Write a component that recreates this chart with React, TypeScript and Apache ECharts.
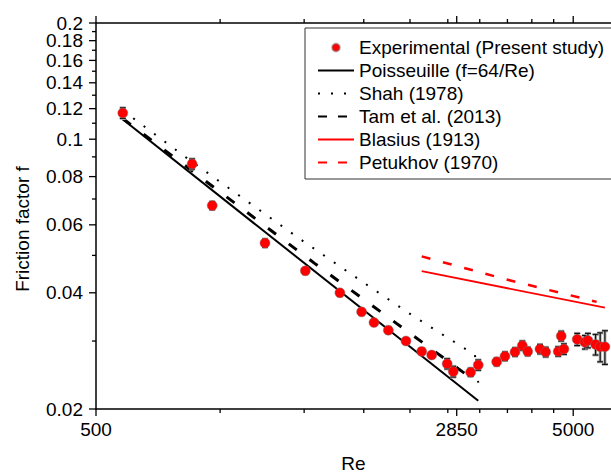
import React, { useEffect, useRef } from "react";
import * as echarts from "echarts";

// ---- axis ranges & ticks ----
const X_MIN = 500;
const X_MAX = 6000;
const Y_MIN = 0.02;
const Y_MAX = 0.2;
const xMajorTicks = [500, 2850, 5000];
const xMinorTicks = [910, 1365, 1820, 2275, 2730, 3185, 3640, 4095, 4550];
const yMajorTicks = [0.02, 0.04, 0.06, 0.08, 0.1, 0.12, 0.14, 0.16, 0.18, 0.2];
const yMinorTicks = [0.03, 0.05, 0.07, 0.09, 0.11, 0.13, 0.15, 0.17, 0.19];

// ---- experimental data ----
const expRe = [569, 795, 876, 1130, 1373, 1622, 1801, 1912, 2049, 2231, 2407, 2526, 2722, 2803, 3048, 3162,
  3456, 3597, 3775, 3911, 4014, 4259, 4378, 4651, 4781, 4719, 5097, 5290, 5367, 5570, 5695, 5826];
const expF = [0.1169, 0.0863, 0.0673, 0.0538, 0.0456, 0.0400, 0.0357, 0.0335, 0.0320, 0.0300, 0.0282, 0.0276,
  0.0262, 0.0250, 0.0249, 0.0260, 0.0265, 0.0274, 0.0281, 0.0292, 0.0282, 0.0286, 0.0281, 0.0282, 0.0286,
  0.0309, 0.0303, 0.0298, 0.0301, 0.0294, 0.0290, 0.0290];
const expErr = [0.0037, 0.0026, 0.0016, 0.0013, 0.0008, 0.0007, 0.0006, 0.0006, 0.0006, 0.0005, 0.0005, 0.0005,
  0.0008, 0.0008, 0.0006, 0.0008, 0.0006, 0.0007, 0.0007, 0.0008, 0.0007, 0.0008, 0.0008, 0.0008, 0.0009,
  0.0009, 0.0011, 0.0012, 0.0013, 0.0018, 0.0025, 0.0029];

// ---- correlations ----
const poiseuilleRe = [566, 3162];
const poiseuilleF = [0.1131, 0.02101];
const shahRe = [569, 772, 986, 1333, 1804, 2296, 3112, 3162];
const shahF = [0.1187, 0.0897, 0.0722, 0.0553, 0.0428, 0.035, 0.0276, 0.0234];
const tamRe = [569, 1438, 2966];
const tamF = [0.1131, 0.0476, 0.0247];
const blasiusRe = [2407, 5826];
const blasiusF = [0.0455, 0.0366];
const petukhovRe = [2407, 3626, 5598];
const petukhovF = [0.0497, 0.0433, 0.0379];

const names = [
  "Experimental (Present study)",
  "Poisseuille (f=64/Re)",
  "Shah (1978)",
  "Tam et al. (2013)",
  "Blasius (1913)",
  "Petukhov (1970)",
];

const MAJOR_LEN = 7;
const MINOR_LEN = 4;

const FONT = "'Liberation Sans', Arial, sans-serif";
const lg = Math.log10;
const EPS = 1e-9;
const zip = (a: number[], b: number[]) => a.map((v, i) => [v, b[i]]);

export default function App() {
  const ref = useRef<HTMLDivElement>(null);
  useEffect(() => {
    if (!ref.current) return;
    const chart = echarts.init(ref.current, undefined, { renderer: "svg" });
    const axisLineStyle = { color: "#000", width: 1.5 };
    const labelAxis = (pos: string, vals: number[], lo: number, hi: number, extra: any) => ({
      type: "value",
      min: lg(lo) - EPS,
      max: lg(hi) + EPS,
      position: pos,
      axisLine: { show: false },
      splitLine: { show: false },
      axisTick: { show: false },
      axisLabel: {
        show: true,
        showMinLabel: true,
        showMaxLabel: true,
        hideOverlap: false,
        customValues: vals.map(lg),
        fontSize: 19,
        color: "#000",
        fontFamily: FONT,
        ...extra,
      },
    });
    const logAxis = (lo: number, hi: number, pos: string, extra: any = {}) => ({
      type: "log",
      logBase: 10,
      min: lo,
      max: hi,
      position: pos,
      axisLine: { show: true, onZero: false, lineStyle: axisLineStyle },
      axisTick: { show: false },
      minorTick: { show: false },
      axisLabel: { show: false },
      splitLine: { show: false },
      ...extra,
    });
    const yFmt = (v: number) => String(Number(Math.pow(10, v).toFixed(2)));

    const xTickData = [
      ...xMajorTicks.map((v) => [v, Y_MIN, MAJOR_LEN]),
      ...xMinorTicks.map((v) => [v, Y_MIN, MINOR_LEN]),
    ];
    const yTickData = [
      ...yMajorTicks.map((v) => [X_MIN, v, MAJOR_LEN]),
      ...yMinorTicks.map((v) => [X_MIN, v, MINOR_LEN]),
    ];

    const option: any = {
      animation: false,
      backgroundColor: "#fff",
      textStyle: { fontFamily: FONT },
      grid: { left: 96, right: 0, top: 23, bottom: 65, containLabel: false, outerBoundsMode: "none" },
      legend: {
        orient: "vertical",
        left: 305,
        top: 28,
        padding: [10, 8, 7, 12],
        itemWidth: 36,
        itemHeight: 8,
        itemGap: 4,
        borderColor: "#333",
        borderWidth: 1,
        backgroundColor: "#fff",
        textStyle: { fontSize: 19, color: "#000", fontFamily: FONT },
        data: [
          { name: names[0] },
          { name: names[1], itemStyle: { opacity: 0 } },
          { name: names[2], itemStyle: { opacity: 0 } },
          { name: names[3], itemStyle: { opacity: 0 }, lineStyle: { type: [9, 11] } },
          { name: names[4], itemStyle: { opacity: 0 } },
          { name: names[5], itemStyle: { opacity: 0 }, lineStyle: { type: [9, 11] } },
        ],
      },
      xAxis: [
        logAxis(X_MIN, X_MAX, "bottom", {
          name: "Re",
          nameLocation: "middle",
          nameGap: 45,
          nameTextStyle: { fontSize: 19, lineHeight: 18, color: "#000", fontFamily: FONT },
        }),
        labelAxis("bottom", xMajorTicks, X_MIN, X_MAX, {
          margin: 11,
          formatter: (v: number) => String(Math.round(Math.pow(10, v))),
        }),
      ],
      yAxis: [
        logAxis(Y_MIN, Y_MAX, "left", {
          name: "Friction factor f",
          nameLocation: "middle",
          nameGap: 64,
          nameTextStyle: { fontSize: 19, color: "#000", fontFamily: FONT, padding: [0, 26, 0, 0] },
        }),
        labelAxis("left", yMajorTicks.slice(0, -1), Y_MIN, Y_MAX, { margin: 13, lineHeight: 15, formatter: yFmt }),
        labelAxis("left", yMajorTicks.slice(-1), Y_MIN, Y_MAX, { margin: 13, lineHeight: 15, formatter: yFmt }),
      ],
      series: [
        {
          name: names[1],
          type: "line",
          data: zip(poiseuilleRe, poiseuilleF),
          symbol: "none",
          lineStyle: { color: "#000", width: 2 },
          z: 2,
        },
        {
          name: names[2],
          type: "line",
          data: zip(shahRe, shahF),
          symbol: "none",
          lineStyle: { color: "#000", width: 2, type: [2, 11] },
          z: 2,
        },
        {
          name: names[3],
          type: "line",
          data: zip(tamRe, tamF),
          symbol: "none",
          lineStyle: { color: "#000", width: 3, type: [10, 16] },
          z: 2,
        },
        {
          name: names[4],
          type: "line",
          data: zip(blasiusRe, blasiusF),
          symbol: "none",
          lineStyle: { color: "#ff0000", width: 1.8 },
          z: 2,
        },
        {
          name: names[5],
          type: "line",
          data: zip(petukhovRe, petukhovF),
          symbol: "none",
          lineStyle: { color: "#ff0000", width: 2.5, type: [9, 13] },
          z: 2,
        },
        {
          name: "errors",
          type: "custom",
          data: expRe.map((r, i) => [r, expF[i], expErr[i]]),
          encode: { x: 0, y: 1 },
          z: 3,
          renderItem: (params: any, api: any) => {
            const x = api.value(0);
            const y = api.value(1);
            const e = api.value(2);
            const hi = api.coord([x, y + e]);
            const lo = api.coord([x, y - e]);
            const cap = 3;
            const mk = (stroke: string, w: number) => [
              { type: "line", shape: { x1: hi[0], y1: hi[1], x2: lo[0], y2: lo[1] }, style: { stroke, lineWidth: w } },
              { type: "line", shape: { x1: hi[0] - cap, y1: hi[1], x2: hi[0] + cap, y2: hi[1] }, style: { stroke, lineWidth: w } },
              { type: "line", shape: { x1: lo[0] - cap, y1: lo[1], x2: lo[0] + cap, y2: lo[1] }, style: { stroke, lineWidth: w } },
            ];
            return { type: "group", children: [...mk("#b0b0b0", 3), ...mk("#111", 1.2)] };
          },
        },
        {
          name: names[0],
          type: "scatter",
          data: zip(expRe, expF),
          symbol: "circle",
          symbolSize: 10,
          itemStyle: { color: "#ff0000", borderColor: "rgba(120,120,120,0.45)", borderWidth: 1, opacity: 1 },
          z: 4,
        },
        {
          name: "xTicks",
          type: "custom",
          data: xTickData,
          encode: { x: 0, y: 1 },
          clip: false,
          z: 5,
          renderItem: (params: any, api: any) => {
            const x = api.value(0);
            const len = api.value(2);
            const b = api.coord([x, Y_MIN]);
            const t = api.coord([x, Y_MAX]);
            return {
              type: "group",
              children: [
                { type: "line", shape: { x1: b[0], y1: b[1], x2: b[0], y2: b[1] + len }, style: { stroke: "#000", lineWidth: 1.3 } },
                { type: "line", shape: { x1: t[0], y1: t[1], x2: t[0], y2: t[1] - len }, style: { stroke: "#000", lineWidth: 1.3 } },
              ],
            };
          },
        },
        {
          name: "yTicks",
          type: "custom",
          data: yTickData,
          encode: { x: 0, y: 1 },
          clip: false,
          z: 5,
          renderItem: (params: any, api: any) => {
            const y = api.value(1);
            const len = api.value(2);
            const l = api.coord([X_MIN, y]);
            return { type: "line", shape: { x1: l[0], y1: l[1], x2: l[0] - len, y2: l[1] }, style: { stroke: "#000", lineWidth: 1.3 } };
          },
        },
        {
          name: "frame",
          type: "line",
          data: [[X_MIN, Y_MAX], [X_MAX, Y_MAX]],
          symbol: "none",
          clip: false,
          lineStyle: { color: "#000", width: 1.5 },
          z: 5,
        },
      ],
    };
    chart.setOption(option);
    return () => chart.dispose();
  }, []);
  return <div ref={ref} style={{ position: "fixed", left: 0, top: 0, width: 611, height: 474, background: "#fff" }} />;
}
